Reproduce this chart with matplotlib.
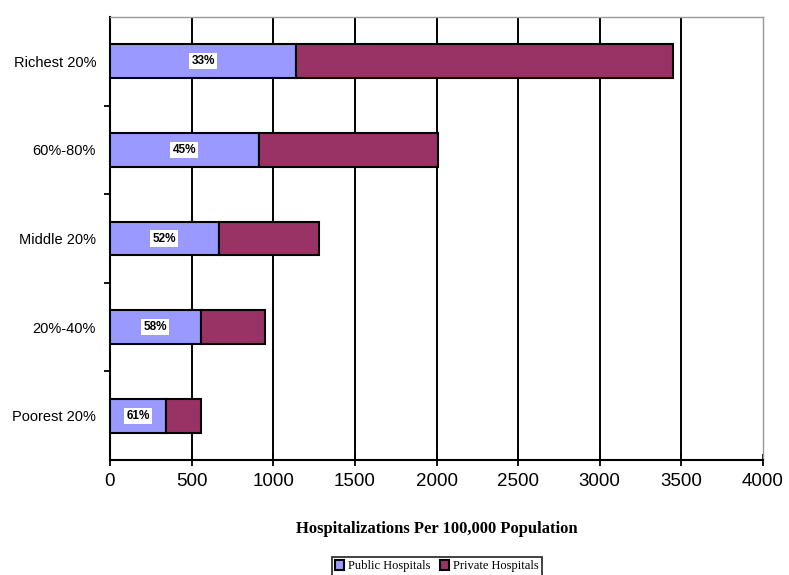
import matplotlib
matplotlib.use("Agg")
import matplotlib.pyplot as plt
import numpy as np

# Hospitalizations per 100,000 population by income quintile
groups = ["Richest 20%", "60%-80%", "Middle 20%", "20%-40%", "Poorest 20%"]
public = [1140, 910, 665, 555, 345]
private = [2310, 1100, 615, 395, 215]
share_labels = ["33%", "45%", "52%", "58%", "61%"]
x_ticks = [0, 500, 1000, 1500, 2000, 2500, 3000, 3500, 4000]

pub_color = "#9999FF"
priv_color = "#993366"

fig = plt.figure(figsize=(7.89, 5.75), dpi=100)
ax = fig.add_axes([110 / 789, 1 - 460 / 575, (763 - 110) / 789, (460 - 17) / 575])

y = np.arange(len(groups))[::-1]
h = 0.38
ax.barh(y, public, height=h, color=pub_color, edgecolor="black", linewidth=1.5, zorder=3,
        label="Public Hospitals")
ax.barh(y, private, left=public, height=h, color=priv_color, edgecolor="black", linewidth=1.5,
        zorder=3, label="Private Hospitals")

for yi, p, s in zip(y, public, share_labels):
    ax.text(p / 2, yi, s, ha="center", va="center", fontsize=8.5, fontweight="bold",
            family="Liberation Sans", zorder=4,
            bbox=dict(facecolor="white", edgecolor="none", pad=1.5))

ax.set_xlim(0, 4000)
ax.set_ylim(-0.5, len(groups) - 0.5)
ax.set_xticks(x_ticks)
ax.set_xticklabels([str(t) for t in x_ticks], fontsize=13.5, family="Liberation Sans")
ax.set_yticks(y)
ax.set_yticklabels(groups, fontsize=10.5, family="Liberation Sans")
ax.set_yticks(np.arange(len(groups) - 1) + 0.5, minor=True)
ax.tick_params(axis="y", which="major", length=0, pad=10)
ax.tick_params(axis="y", which="minor", length=4, width=1.3, direction="out")
ax.tick_params(axis="x", which="major", length=8, width=1.3, direction="inout", pad=5)

ax.grid(axis="x", color="black", linewidth=1.4, zorder=0)
ax.xaxis.get_gridlines()[-1].set_visible(False)
ax.set_axisbelow(True)

for side in ("left", "bottom"):
    ax.spines[side].set_color("black")
    ax.spines[side].set_linewidth(1.5)
for side in ("top", "right"):
    ax.spines[side].set_color("#999999")
    ax.spines[side].set_linewidth(1.0)

ax.set_xlabel("Hospitalizations Per 100,000 Population", fontsize=12, fontweight="bold",
              family="Liberation Serif", labelpad=23)

leg = fig.legend(loc="upper center", bbox_to_anchor=(437 / 789, 1 - 551 / 575), ncol=2,
                 frameon=True, fancybox=False, edgecolor="black",
                 prop={"family": "Liberation Serif", "size": 9},
                 handlelength=0.7, handleheight=0.8, handletextpad=0.3, columnspacing=0.8,
                 borderpad=0.25)
leg.get_frame().set_linewidth(1.3)

fig.savefig("out.png", dpi=100)
